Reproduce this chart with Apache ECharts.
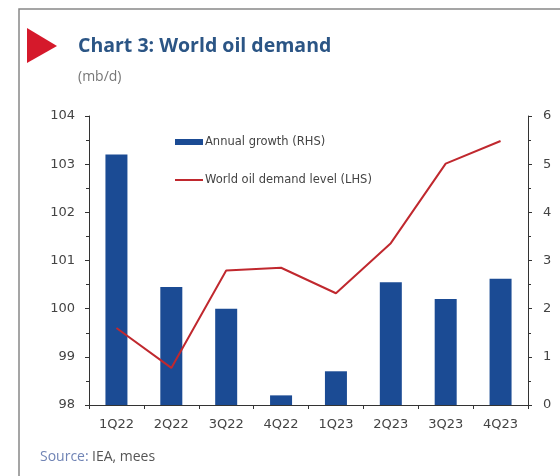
<!DOCTYPE html>
<html>
<head>
<meta charset="utf-8">
<script src="https://cdn.jsdelivr.net/npm/echarts@6/dist/echarts.min.js"></script>
<style>
html,body{margin:0;padding:0;background:#fff;}
#chart{width:560px;height:476px;}
</style>
</head>
<body>
<div id="chart"></div>
<script>
const categories = ['1Q22','2Q22','3Q22','4Q22','1Q23','2Q23','3Q23','4Q23'];
const annualGrowth = [5.2, 2.45, 2.0, 0.2, 0.7, 2.55, 2.2, 2.62];
const demandLevel = [99.6, 98.77, 100.79, 100.85, 100.32, 101.36, 103.01, 103.48];
const leftTicks = [98, 104, 1];
const rightTicks = [0, 6, 1];

const chart = echarts.init(document.getElementById('chart'), null, {renderer:'canvas'});
const labelFont = {color:'#444', fontSize:13, fontFamily:'DejaVu Sans, sans-serif'};
chart.setOption({
  animation:false,
  backgroundColor:'#fff',
  graphic:[
    {type:'polyline', shape:{points:[[19,476],[19,9],[560,9]]}, style:{stroke:'#888', lineWidth:1.5, fill:null}},
    {type:'polygon', shape:{points:[[27,28],[27,63],[57,46]]}, style:{fill:'#d5192b'}},
    {type:'text', left:78, top:36, style:{text:'Chart 3: World oil demand', fill:'#2b5585', font:'bold 19.5px "Open Sans", sans-serif'}},
    {type:'text', left:78, top:70, style:{text:'(mb/d)', fill:'#777', font:'14px "Open Sans", sans-serif'}},
    {type:'text', left:40, top:450, style:{
      text:'{a|Source:} {b|IEA, mees}',
      rich:{a:{fill:'#7084b5', font:'14px "Open Sans", sans-serif'}, b:{fill:'#555', font:'14px "Open Sans", sans-serif'}}
    }}
  ],
  legend:{
    orient:'vertical', left:170, top:131, itemGap:26,
    itemWidth:28, itemHeight:6,
    textStyle:{color:'#444', fontSize:11.5, fontFamily:'DejaVu Sans, sans-serif', padding:[0,0,0,-3]},
    data:[
      {name:'Annual growth (RHS)', icon:'rect'},
      {name:'World oil demand level (LHS)', icon:'path://M0,0L28,0L28,2L0,2Z'}
    ]
  },
  grid:{left:89, right:32, top:116, bottom:71, containLabel:false},
  xAxis:{
    type:'category', data:categories, boundaryGap:true,
    axisLine:{lineStyle:{color:'#333', width:1}},
    axisTick:{show:true, alignWithLabel:false, length:4, lineStyle:{color:'#333'}},
    axisLabel:Object.assign({margin:13}, labelFont)
  },
  yAxis:[
    {type:'value', min:leftTicks[0], max:leftTicks[1], interval:leftTicks[2], position:'left',
     axisLine:{show:true, lineStyle:{color:'#333'}},
     axisTick:{show:true, length:4, lineStyle:{color:'#333'}},
     minorTick:{show:true, splitNumber:2, length:3, lineStyle:{color:'#333'}},
     splitLine:{show:false},
     axisLabel:Object.assign({margin:14}, labelFont)},
    {type:'value', min:rightTicks[0], max:rightTicks[1], interval:rightTicks[2], position:'right',
     axisLine:{show:true, lineStyle:{color:'#333'}},
     axisTick:{show:true, length:4, lineStyle:{color:'#333'}},
     minorTick:{show:true, splitNumber:2, length:3, lineStyle:{color:'#333'}},
     splitLine:{show:false},
     axisLabel:Object.assign({margin:15}, labelFont)}
  ],
  series:[
    {name:'Annual growth (RHS)', type:'bar', yAxisIndex:1, data:annualGrowth, barWidth:22,
     itemStyle:{color:'#1b4b94'}},
    {name:'World oil demand level (LHS)', type:'line', yAxisIndex:0, data:demandLevel,
     showSymbol:false, symbol:'none', z:5,
     lineStyle:{color:'#c0282e', width:2}, itemStyle:{color:'#c0282e'}}
  ]
});
</script>
</body>
</html>
